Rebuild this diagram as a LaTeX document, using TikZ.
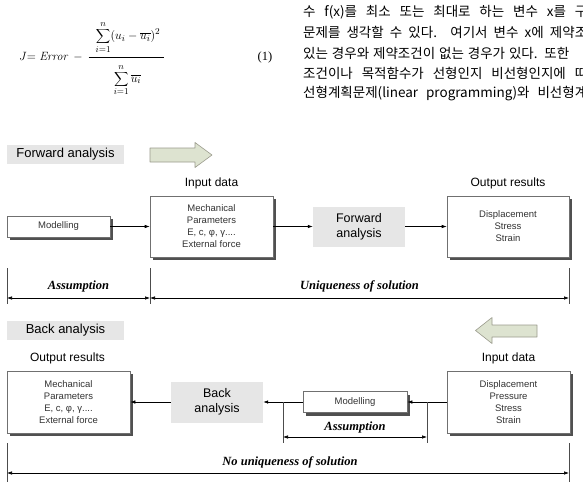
\documentclass[tikz,border=0pt]{standalone}
\usepackage[no-math]{fontspec}
\setmainfont{Liberation Sans}
\newfontfamily\dimfont{Liberation Serif}
\newfontfamily\krfont{Noto Sans CJK KR}
\usetikzlibrary{arrows.meta,shadows}

\definecolor{labelgray}{HTML}{E6E6E6}
\definecolor{boxline}{HTML}{707070}
\definecolor{shadowgray}{HTML}{505050}
\definecolor{txtgray}{HTML}{333333}
\definecolor{arrowfill}{HTML}{DDE3D0}
\definecolor{arrowline}{HTML}{9A9A8C}

% one justified line of running text
\newcommand{\jline}[2][284pt]{\makebox[#1][s]{#2}}

\tikzset{
  databox/.style={draw=boxline, line width=0.6pt, fill=white, inner sep=0pt,
    align=center, text=txtgray, font=\fontsize{9.5}{12}\selectfont,
    drop shadow={shadow xshift=3pt, shadow yshift=-3pt, fill=shadowgray, opacity=1}},
  procbox/.style={fill=labelgray, inner sep=0pt, align=center,
    font=\fontsize{12.5}{15}\selectfont},
  headlabel/.style={fill=labelgray, inner sep=0pt, font=\fontsize{13}{15}\selectfont},
  caption/.style={font=\fontsize{12}{14}\selectfont},
  dimlabel/.style={font=\dimfont\bfseries\itshape\fontsize{12.5}{14}\selectfont},
  flow/.style={-{Latex[length=5pt,width=3.5pt]}, line width=0.6pt},
  dimline/.style={{Latex[length=5pt,width=3.5pt]}-{Latex[length=5pt,width=3.5pt]}, line width=0.6pt},
  tick/.style={line width=0.6pt, draw=black!70},
  bigarrow/.style={fill=arrowfill, draw=arrowline, line width=0.6pt, line join=round},
  bodytext/.style={anchor=west, inner sep=0pt, font=\krfont\fontsize{13.5}{15}\selectfont}
}

\begin{document}
\begin{tikzpicture}[x=1pt,y=-1pt]
\useasboundingbox (0,0) rectangle (583,482);

% ---- equation (1) ----
\node[anchor=base west, inner sep=0pt, font=\fontsize{12.5}{16}\selectfont] (eq) at (19,60.5)
  {$\displaystyle J{=}\;\mathit{Error}\,-\,{\textstyle\frac
    {\kern7pt\displaystyle\sum_{i=1}^{n}(u_i-\overline{u_i})^2\kern4pt\rule[-17pt]{0pt}{0pt}}
    {\displaystyle\rule{0pt}{24pt}\sum_{i=1}^{n}\overline{u_i}}}$};
\node[font=\dimfont\fontsize{12.5}{14}\selectfont] (eqno) at (265,57) {(1)};

% ---- running text ----
\begin{scope}
\clip (0,0) rectangle (583,482);
\node[bodytext] (t1) at (303,12) {\jline{수 f(x)를 최소 또는 최대로 하는 변수 x를 구}};
\node[bodytext] (t2) at (303,32.5) {\jline{문제를 생각할 수 있다. 여기서 변수 x에 제약조}};
\node[bodytext] (t3) at (303,53) {\jline[266pt]{있는 경우와 제약조건이 없는 경우가 있다. 또한}};
\node[bodytext] (t4) at (303,73.5) {\jline{조건이나 목적함수가 선형인지 비선형인지에 따}};
\node[bodytext] (t5) at (303,94) {\jline{선형계획문제(linear programming)와 비선형계}};
\end{scope}

% ---- forward analysis ----
\node[headlabel, minimum width=117pt, minimum height=19pt] (fhead) at (65.5,154.5) {Forward analysis};
\draw[bigarrow] (150,148) -- (195,148) -- (195,142.5) -- (212,155) -- (195,167.5)
  -- (195,162) -- (150,162) -- cycle;

\node[databox, minimum width=103pt, minimum height=21pt] (fmodel) at (58.5,226.5) {Modelling};
\node[databox, minimum width=123pt, minimum height=61pt] (fin) at (211.5,226.5)
  {Mechanical\\Parameters\\E, c, φ, γ....\\External force};
\node[procbox, minimum width=92pt, minimum height=40pt] (fproc) at (359,226.5) {Forward\\analysis};
\node[databox, minimum width=122pt, minimum height=61pt] (fout) at (508,226.5)
  {Displacement\\Stress\\Strain};
\node[caption] (fincap) at (211.5,183) {Input data};
\node[caption] (foutcap) at (508,183) {Output results};

\draw[flow] (fmodel) -- (fin);
\draw[flow] (fin) -- (fproc);
\draw[flow] (fproc) -- (fout);

\coordinate (fa) at (7,298);
\coordinate (fb) at (150,298);
\coordinate (fc) at (569,298);
\draw[tick] (7,268) -- (7,304);
\draw[tick] (150,268) -- (150,304);
\draw[tick] (569,268) -- (569,304);
\draw[dimline] (fa) -- (fb);
\draw[dimline] (fb) -- (fc);
\node[dimlabel] (fass) at (78.5,286) {Assumption};
\node[dimlabel] (funiq) at (359.5,286) {Uniqueness of solution};

% ---- back analysis ----
\node[headlabel, minimum width=117pt, minimum height=19pt] (bhead) at (65.5,330.5) {Back analysis};
\draw[bigarrow] (537,325) -- (492,325) -- (492,317.5) -- (475.5,330.5) -- (492,343.5)
  -- (492,337) -- (537,337) -- cycle;

\node[databox, minimum width=123pt, minimum height=62pt] (bout) at (68.5,402)
  {Mechanical\\Parameters\\E, c, φ, γ....\\External force};
\node[procbox, minimum width=92pt, minimum height=41pt] (bproc) at (217,402) {Back\\analysis};
\node[databox, minimum width=104pt, minimum height=21pt] (bmodel) at (355,402) {Modelling};
\node[databox, minimum width=123pt, minimum height=62pt] (bin) at (508.5,402)
  {Displacement\\Pressure\\Stress\\Strain};
\node[caption] (boutcap) at (67.5,358) {Output results};
\node[caption] (bincap) at (508.5,358) {Input data};

\draw[flow] (bin) -- (bmodel);
\draw[flow] (bmodel) -- (bproc);
\draw[flow] (bproc) -- (bout);

\coordinate (ba) at (283,437);
\coordinate (bb) at (427,437);
\draw[tick] (283,402) -- (283,443);
\draw[tick] (427,402) -- (427,443);
\draw[dimline] (ba) -- (bb);
\node[dimlabel] (bass) at (355,427) {Assumption};

\coordinate (na) at (7,473);
\coordinate (nb) at (569,473);
\draw[tick] (7,443) -- (7,482);
\draw[tick] (569,443) -- (569,482);
\draw[dimline] (na) -- (nb);
\node[dimlabel] (nuniq) at (290,462) {No uniqueness of solution};
\end{tikzpicture}
\end{document}
